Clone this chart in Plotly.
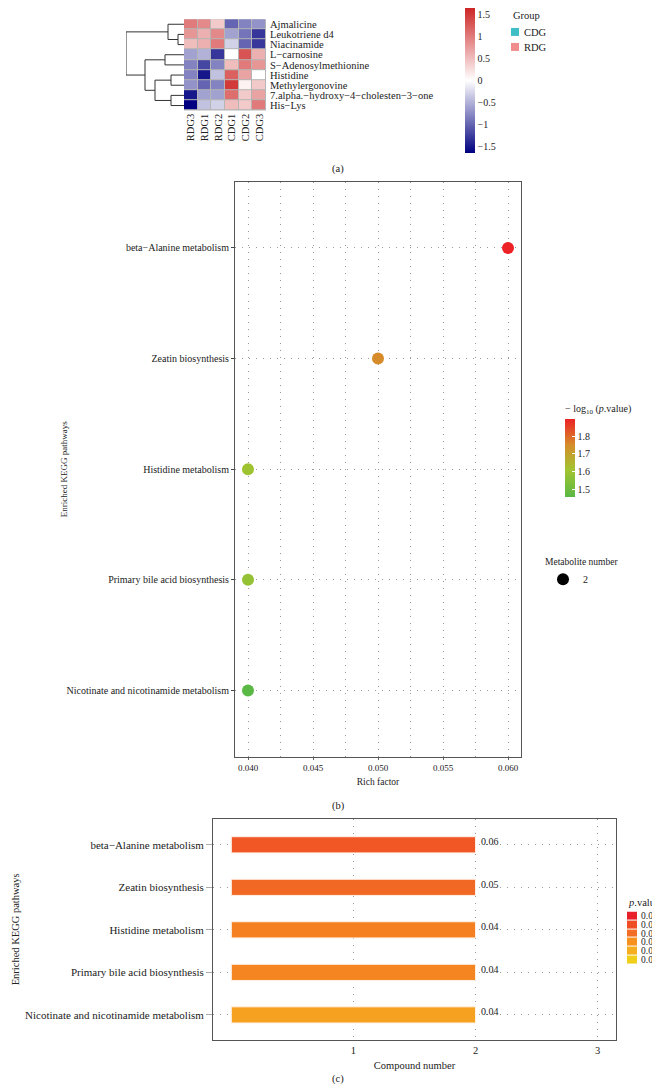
import numpy as np
import plotly.graph_objects as go

W, H = 660, 1084
FONT = "Liberation Serif"
INK = "#222222"

# %% (a) heatmap data
metabolites = ["Ajmalicine", "Leukotriene d4", "Niacinamide", "L−carnosine",
               "S−Adenosylmethionine", "Histidine", "Methylergonovine",
               "7.alpha.−hydroxy−4−cholesten−3−one", "His−Lys"]
samples = ["RDG3", "RDG1", "RDG2", "CDG1", "CDG2", "CDG3"]
zscores = [
    [1.0, 0.9, 0.4, -1.0, -0.8, -0.7],
    [0.8, 0.6, 0.9, -0.6, -0.9, -1.3],
    [0.5, 0.6, 1.0, -0.3, -1.0, -1.3],
    [-0.6, -0.5, -1.3, 0.0, 1.3, 0.6],
    [-0.8, -1.2, -0.8, 0.5, 1.0, 0.8],
    [-0.8, -1.5, -0.4, 1.2, 0.7, 0.0],
    [-0.7, -1.0, -0.8, 1.5, 0.1, 0.4],
    [-1.5, -0.6, -0.6, 1.1, 0.4, 0.7],
    [-1.7, -0.4, -0.3, 0.5, 0.4, 1.0],
]
# row clustering: (child a, child b, height); children >= 9 are earlier merges
row_merges = [(1, 2, 6), (0, 9, 16), (5, 6, 13), (7, 8, 13),
              (3, 4, 19), (11, 12, 29), (13, 14, 39), (10, 15, 58)]
heat_ticks = [-1.5, -1, -0.5, 0, 0.5, 1, 1.5]
groups = ["CDG", "RDG"]
group_colors = ["#41BDC6", "#F08C8C"]

# %% (b)/(c) enrichment data
pathways = ["beta−Alanine metabolism", "Zeatin biosynthesis", "Histidine metabolism",
            "Primary bile acid biosynthesis", "Nicotinate and nicotinamide metabolism"]
rich_factor = [0.06, 0.05, 0.04, 0.04, 0.04]
p_value = [0.0127, 0.0178, 0.0251, 0.0263, 0.0352]
compound_num = [2, 2, 2, 2, 2]
p_bins = [0.00, 0.01, 0.02, 0.03, 0.04, 0.05]
logp_ticks = [1.5, 1.6, 1.7, 1.8]
rich_ticks = [0.040, 0.045, 0.050, 0.055, 0.060]
count_ticks = [1, 2, 3]

neg_log_p = -np.log10(p_value)
heat_scale = [[0, "#000080"], [0.5, "#FFFFFF"], [1, "#CD2626"]]
logp_scale = [[0, "#5AB845"], [0.35, "#A2C430"], [0.67, "#D68C2A"], [1, "#EC2226"]]
p_scale = [[0, "#E8202A"], [0.2, "#EF4E25"], [0.4, "#F26E24"], [0.6, "#F7921E"],
           [0.8, "#F5AE1F"], [1, "#EFCF1A"]]
p_labels = [f"{p:.2f}" for p in p_bins]


def xd(a, b):
    return [a / W, b / W]


def yd(top, bottom):
    return [1 - bottom / H, 1 - top / H]


def font(size, color=INK):
    return dict(family=FONT, size=size, color=color)


# dendrogram segments
pos = {i: (0.0, float(i)) for i in range(len(metabolites))}
dx, dy = [], []
for k, (a, b, h) in enumerate(row_merges):
    (ha, ya), (hb, yb) = pos[a], pos[b]
    dx += [ha, h, h, hb, None]
    dy += [ya, ya, yb, yb, None]
    pos[len(metabolites) + k] = (h, (ya + yb) / 2)

fig = go.Figure()

# %% (a)
fig.add_trace(go.Heatmap(z=zscores, x=samples, y=metabolites, xaxis="x", yaxis="y",
                         colorscale=heat_scale, zmin=-1.65, zmax=1.65, xgap=1, ygap=1,
                         colorbar=dict(x=457 / W, xanchor="left", y=1 - 64 / H, yanchor="middle",
                                       lenmode="pixels", len=145, thickness=10, xpad=0, ypad=0,
                                       outlinewidth=0, tickvals=heat_ticks, ticks="",
                                       tickfont=font(10))))
fig.add_trace(go.Scatter(x=dx, y=dy, xaxis="x2", yaxis="y2", mode="lines",
                         line=dict(color="#333333", width=1), showlegend=False, hoverinfo="skip"))
fig.add_trace(go.Heatmap(z=[[0], [1]], x=[0], y=groups, xaxis="x3", yaxis="y3",
                         colorscale=[[0, group_colors[0]], [0.5, group_colors[0]],
                                     [0.5, group_colors[1]], [1, group_colors[1]]],
                         showscale=False, ygap=7))

# %% (b)
fig.add_trace(go.Scatter(x=rich_factor, y=pathways, xaxis="x4", yaxis="y4", mode="markers",
                         marker=dict(size=[6 * c for c in compound_num], color=neg_log_p,
                                     colorscale=logp_scale, opacity=1, line=dict(width=0),
                                     colorbar=dict(x=557 / W, xanchor="left", y=1 - 436 / H,
                                                   yanchor="middle", lenmode="pixels", len=96,
                                                   thickness=10, xpad=0, ypad=0, outlinewidth=0,
                                                   tickvals=logp_ticks, ticks="inside",
                                                   tickcolor="white", ticklen=3,
                                                   tickfont=font(10),
                                                   title=dict(text="− log<sub>10</sub> (<i>p</i>.value)",
                                                              side="top", font=font(10)))),
                         showlegend=False))
fig.add_trace(go.Scatter(x=[None], y=[None], xaxis="x4", yaxis="y4", mode="markers",
                         marker=dict(size=12, color="black"), name=str(compound_num[0]),
                         showlegend=True))

# %% (c)
fig.add_trace(go.Bar(x=compound_num, y=pathways, orientation="h", xaxis="x5", yaxis="y5",
                     width=0.38, marker=dict(color=p_value, colorscale=p_scale, cmin=0, cmax=0.05,
                                             line=dict(color="#FFF1E6", width=1)),
                     showlegend=False))
fig.add_trace(go.Heatmap(z=[[p] for p in p_bins], x=[0], y=p_labels,
                         xaxis="x6", yaxis="y6", colorscale=p_scale, zmin=0, zmax=0.05,
                         showscale=False, ygap=1))

hidden = dict(visible=False)
frame = dict(showline=True, linecolor="#555555", linewidth=1, mirror=True, zeroline=False)
grid = dict(showgrid=True, gridcolor="#9A9A9A", gridwidth=1, griddash="1px,6px")

fig.update_layout(
    width=W, height=H, margin=dict(l=0, r=0, t=0, b=0),
    paper_bgcolor="white", plot_bgcolor="white", font=font(10),
    xaxis=dict(domain=xd(176, 258), anchor="y", tickangle=-90, ticks="", tickfont=font(10.5),
               tickmode="array", tickvals=samples, showgrid=False),
    yaxis=dict(domain=yd(2.2, 94.4), anchor="x", autorange="reversed", side="right",
               tickmode="array", tickvals=metabolites,
               ticks="", tickfont=font(10.5), showgrid=False, ticklabelstandoff=3),
    xaxis2=dict(domain=xd(118, 176), anchor="y2", range=[58, 0], **hidden),
    yaxis2=dict(domain=yd(2.2, 94.4), anchor="x2", range=[8.5, -0.5], **hidden),
    xaxis3=dict(domain=xd(503, 511), anchor="y3", **hidden),
    yaxis3=dict(domain=yd(8, 38), anchor="x3", autorange="reversed", side="right", ticks="",
                tickmode="array", tickvals=groups,
                showgrid=False, tickfont=font(10.5), ticklabelstandoff=4),
    xaxis4=dict(domain=xd(227, 513), anchor="y4", range=[0.039, 0.061], tickvals=rich_ticks,
                tickformat=".3f", ticks="outside", ticklen=2, tickcolor="#666",
                tickfont=font(9), minor=dict(dtick=0.0025, tick0=0.04, showgrid=True,
                                             gridcolor="#9A9A9A", griddash="1px,6px"),
                title=dict(text="Rich factor", font=font(9.5), standoff=6), **grid, **frame),
    yaxis4=dict(domain=yd(166, 746), anchor="x4", range=[4.6, -0.6], ticks="outside",
                tickmode="array", tickvals=pathways,
                ticklen=3, tickcolor="#444", tickfont=font(10), **grid, **frame),
    xaxis5=dict(domain=xd(205, 608), anchor="y5", range=[-0.15, 3.15], tickvals=count_ticks,
                ticks="", tickfont=font(10.5),
                title=dict(text="Compound number", font=font(10.5), standoff=6), **grid, **frame),
    yaxis5=dict(domain=yd(809, 1032), anchor="x5", range=[4.6, -0.6], ticks="outside",
                tickmode="array", tickvals=pathways,
                ticklen=6, tickcolor="#AAAAAA", tickfont=font(11), **grid, **frame),
    xaxis6=dict(domain=xd(619, 629), anchor="y6", **hidden),
    yaxis6=dict(domain=yd(902, 955), anchor="x6", autorange="reversed", side="right", ticks="",
                tickmode="array", tickvals=p_labels,
                showgrid=False, tickfont=font(9.5), ticklabelstandoff=3),
    legend=dict(x=535 / W, y=1 - 540 / H, xanchor="left", yanchor="top", font=font(10),
                title=dict(text="Metabolite number", font=font(9.5)), bgcolor="rgba(0,0,0,0)"),
)

annotations = [
    dict(text="Group", x=503 / W, y=1 - 6 / H, xanchor="left", yanchor="bottom", font=font(10.5)),
    dict(text="(a)", x=330 / W, y=1 - 153 / H, font=font(10.5)),
    dict(text="(b)", x=330 / W, y=1 - 796 / H, font=font(10.5)),
    dict(text="(c)", x=330 / W, y=1 - 1071 / H, font=font(10.5)),
    dict(text="Enriched KEGG pathways", x=56 / W, y=1 - 456 / H, textangle=-90, font=font(9)),
    dict(text="Enriched KEGG pathways", x=7 / W, y=1 - 920 / H, textangle=-90, font=font(10.5)),
    dict(text="<i>p</i>.value", x=618 / W, y=1 - 893 / H, xanchor="left", font=font(10.5)),
]
for a in annotations:
    a.setdefault("xanchor", "center")
    a.setdefault("yanchor", "middle")
    a.update(xref="paper", yref="paper", showarrow=False)
for i, cnt in enumerate(compound_num):
    annotations.append(dict(text=f"{rich_factor[i]:.2f}", x=cnt, y=pathways[i], xref="x5",
                            yref="y5", xanchor="left", yanchor="middle", xshift=3, yshift=3,
                            showarrow=False, font=font(10)))
fig.update_layout(annotations=annotations)

# grey cell borders behind the heatmap
fig.add_shape(type="rect", xref="x domain", yref="y domain", x0=0, x1=1, y0=0, y1=1,
              fillcolor="#B5B5B5", line_width=0, layer="below")

fig.write_html("out.html")
